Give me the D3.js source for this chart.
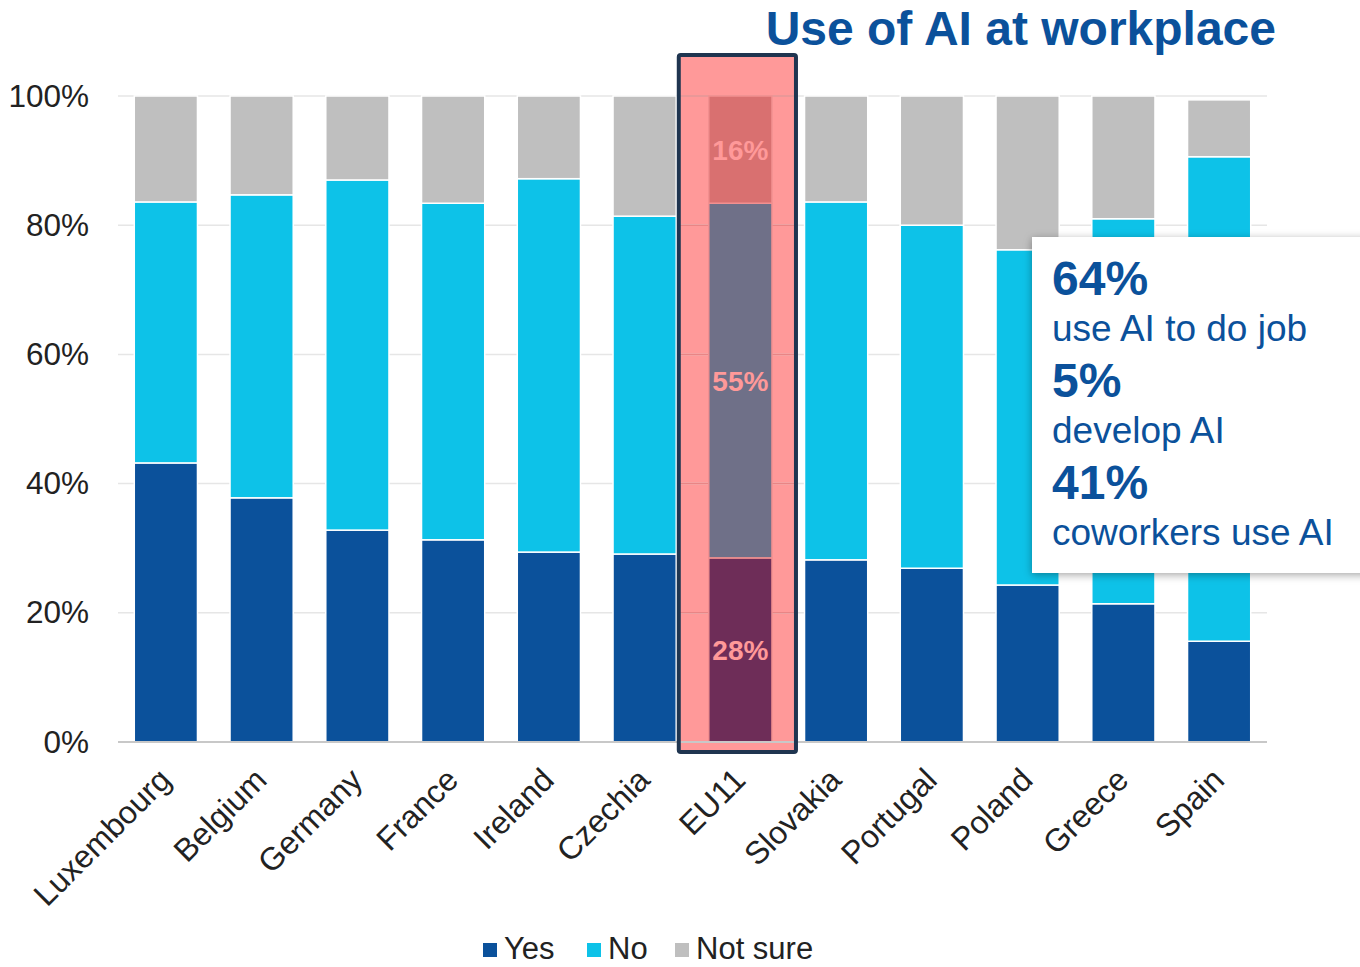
<!DOCTYPE html>
<html>
<head>
<meta charset="utf-8">
<script src="https://cdn.jsdelivr.net/npm/d3@7"></script>
<style>
  body { margin: 0; background: #fff; }
  text { font-family: "Liberation Sans", Arial, sans-serif; }
</style>
</head>
<body>
<div id="chart"></div>
<script>
/* CONSTANTS AND GLOBALS */
const width = 1360,
  height = 967,
  margin = { top: 96, bottom: 225, left: 118, right: 93 };

// data (percent)
const countries = ["Luxembourg", "Belgium", "Germany", "France", "Ireland", "Czechia",
  "EU11", "Slovakia", "Portugal", "Poland", "Greece", "Spain"];
const yesValues = [43.2, 37.8, 32.8, 31.3, 29.4, 29.1, 28.5, 28.2, 26.9, 24.3, 21.4, 15.6];
const noValues = [40.4, 46.9, 54.2, 52.1, 57.8, 52.3, 54.9, 55.4, 53.1, 51.9, 59.6, 75.0];
const notSureValues = [16.4, 15.3, 13.0, 16.6, 12.8, 18.6, 16.6, 16.4, 20.0, 23.8, 19.0, 8.8];
const eu11Labels = ["28%", "55%", "16%"];
const yTicks = [0, 20, 40, 60, 80, 100];
const keys = ["Yes", "No", "Not sure"];
const colors = ["#0B519B", "#0DC2E8", "#BFBFBF"];
const highlightColors = ["#6E2D58", "#6F7088", "#D97070"];
const boxNumbers = ["64%", "5%", "41%"];
const boxTexts = ["use AI to do job", "develop AI", "coworkers use AI"];

const rows = countries.map((c, i) => ({
  country: c, "Yes": yesValues[i], "No": noValues[i], "Not sure": notSureValues[i]
}));
const stacked = d3.stack().keys(keys)(rows);

/* SCALES */
const xScale = d3.scaleBand()
  .domain(countries)
  .range([margin.left, width - margin.right])
  .paddingInner(0.34)
  .paddingOuter(0.17);

const yScale = d3.scaleLinear()
  .domain([0, 100])
  .range([height - margin.bottom, margin.top]);

const svg = d3.select("#chart").append("svg")
  .attr("width", width)
  .attr("height", height);

// drop shadow for the annotation box
const defs = svg.append("defs");
const filter = defs.append("filter").attr("id", "shadow")
  .attr("x", "-10%").attr("y", "-10%").attr("width", "130%").attr("height", "130%");
filter.append("feDropShadow").attr("dx", 0).attr("dy", 2).attr("stdDeviation", 4)
  .attr("flood-color", "#000").attr("flood-opacity", 0.35);

// EU11 highlight geometry
const hx = xScale("EU11");
const hw = xScale.bandwidth();
const frame = { x: hx - 30, y: 55, w: hw + 54, h: yScale(0) + 10 - 55 };

svg.append("rect")
  .attr("x", frame.x)
  .attr("y", frame.y)
  .attr("width", frame.w)
  .attr("height", frame.h)
  .attr("fill", "#FF9999");

// grid lines
svg.append("g")
  .selectAll("line")
  .data(yTicks.filter(d => d > 0))
  .join("line")
  .attr("x1", margin.left)
  .attr("x2", width - margin.right)
  .attr("y1", d => yScale(d))
  .attr("y2", d => yScale(d))
  .attr("stroke", "#E6E6E6")
  .attr("stroke-width", 1.5);

// grid darker inside the highlight
svg.append("g")
  .selectAll("line")
  .data(yTicks.filter(d => d > 0))
  .join("line")
  .attr("x1", frame.x)
  .attr("x2", frame.x + frame.w)
  .attr("y1", d => yScale(d))
  .attr("y2", d => yScale(d))
  .attr("stroke", "#E98585")
  .attr("stroke-width", 1.5);

// bars
svg.append("g")
  .selectAll("g")
  .data(stacked)
  .join("g")
  .each(function(layer, li) {
    d3.select(this).selectAll("rect")
      .data(layer)
      .join("rect")
      .attr("x", d => xScale(d.data.country))
      .attr("width", xScale.bandwidth())
      .attr("y", d => yScale(d[1]))
      .attr("height", d => yScale(d[0]) - yScale(d[1]))
      .attr("fill", d => d.data.country === "EU11" ? highlightColors[li] : colors[li])
      .attr("stroke", d => d.data.country === "EU11" ? "#F29090" : "#fff")
      .attr("stroke-width", 1.5);
  });

// EU11 labels
svg.append("g")
  .selectAll("text")
  .data(stacked.map(l => l[countries.indexOf("EU11")]))
  .join("text")
  .attr("x", hx + hw / 2)
  .attr("y", d => (yScale(d[0]) + yScale(d[1])) / 2 + 10)
  .attr("text-anchor", "middle")
  .attr("font-size", 28)
  .attr("font-weight", "bold")
  .attr("fill", "#FF9999")
  .text((d, i) => eu11Labels[i]);

// baseline axis
svg.append("line")
  .attr("x1", margin.left)
  .attr("x2", width - margin.right)
  .attr("y1", yScale(0))
  .attr("y2", yScale(0))
  .attr("stroke", "#C8C8C8")
  .attr("stroke-width", 2);

// highlight frame
svg.append("rect")
  .attr("x", frame.x)
  .attr("y", frame.y)
  .attr("width", frame.w)
  .attr("height", frame.h)
  .attr("fill", "none")
  .attr("stroke", "#1F3550")
  .attr("stroke-width", 4)
  .attr("rx", 2);

// y axis
const yAxis = d3.axisLeft(yScale)
  .tickValues(yTicks)
  .tickFormat(d => d + "%")
  .tickSize(0)
  .tickPadding(29);
svg.append("g")
  .attr("transform", `translate(${margin.left},0)`)
  .call(yAxis)
  .call(g => g.select(".domain").remove())
  .call(g => g.selectAll("text")
    .attr("font-size", 31.5)
    .attr("fill", "#222")
    .attr("font-family", "Liberation Sans, Arial, sans-serif"));

// x axis labels
const xAxis = d3.axisBottom(xScale).tickSize(0).tickPadding(0);
svg.append("g")
  .attr("transform", `translate(0,${yScale(0)})`)
  .call(xAxis)
  .call(g => g.select(".domain").remove())
  .call(g => g.selectAll(".tick text")
    .attr("font-size", 32)
    .attr("fill", "#222")
    .attr("font-family", "Liberation Sans, Arial, sans-serif")
    .attr("text-anchor", "end")
    .attr("dy", 0)
    .attr("y", 0)
    .attr("transform", "translate(7,40) rotate(-45)"));

// title
svg.append("text")
  .attr("x", 1276)
  .attr("y", 45)
  .attr("text-anchor", "end")
  .attr("font-size", 48)
  .attr("font-weight", "bold")
  .attr("fill", "#0B519B")
  .text("Use of AI at workplace");

// annotation box
const box = svg.append("g").attr("transform", "translate(1032,237)");
box.append("rect")
  .attr("width", 340)
  .attr("height", 336)
  .attr("fill", "#fff")
  .attr("filter", "url(#shadow)");
boxNumbers.forEach((n, i) => {
  box.append("text")
    .attr("x", 20)
    .attr("y", 58 + i * 102)
    .attr("font-size", 48)
    .attr("font-weight", "bold")
    .attr("fill", "#0B519B")
    .text(n);
  box.append("text")
    .attr("x", 20)
    .attr("y", 104 + i * 102)
    .attr("font-size", 37)
    .attr("fill", "#0B519B")
    .text(boxTexts[i]);
});

// legend
const legendX = [483, 587, 675];
const legend = svg.append("g")
  .selectAll("g")
  .data(keys)
  .join("g")
  .attr("transform", (d, i) => `translate(${legendX[i]},945)`);
legend.append("rect")
  .attr("y", -2)
  .attr("width", 14)
  .attr("height", 14)
  .attr("fill", (d, i) => colors[i]);
legend.append("text")
  .attr("x", 21)
  .attr("y", 14)
  .attr("font-size", 31)
  .attr("fill", "#222")
  .text(d => d);
</script>
</body>
</html>
